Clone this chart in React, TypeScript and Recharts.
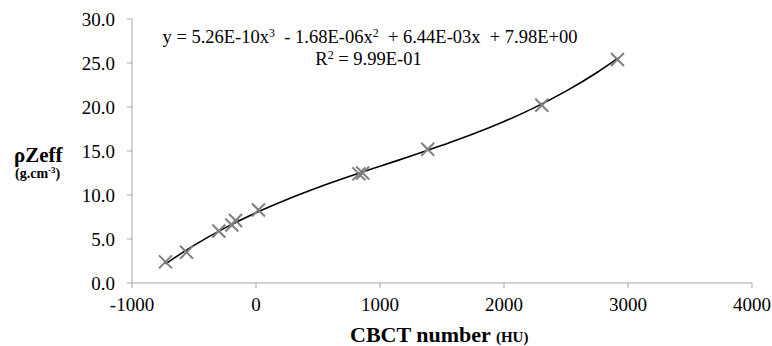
import React from 'react';
import { ComposedChart, XAxis, YAxis, Scatter, Line } from 'recharts';

const measuredX = [-730, -560, -300, -195, -165, 20, 830, 860, 1385, 2305, 2915];
const measuredY = [2.4, 3.5, 5.9, 6.6, 7.1, 8.3, 12.4, 12.5, 15.2, 20.2, 25.4];

const trendX = [-730, -500, -250, 0, 250, 500, 750, 1000, 1250, 1500, 1750, 2000, 2250, 2500, 2750, 2920];
const trendY = [2.18, 4.27, 6.26, 7.98, 9.49, 10.85, 12.09, 13.27, 14.43, 15.64, 16.92, 18.35, 19.96, 21.80, 23.92, 25.56];

const xTicks = [-1000, 0, 1000, 2000, 3000, 4000];
const yTicks = [0, 5, 10, 15, 20, 25, 30];

const points = measuredX.map((x, i) => ({ x, y: measuredY[i] }));
const trend = trendX.map((x, i) => ({ x, t: trendY[i] }));

const FONT = "'Liberation Serif'";

const Cross = (props: any) => {
  const { cx, cy } = props;
  if (cx == null || cy == null) return null;
  const r = 6.5;
  return (
    <g stroke="#7f7f7f" strokeWidth={2}>
      <line x1={cx - r} y1={cy - r} x2={cx + r} y2={cy + r} />
      <line x1={cx - r} y1={cy + r} x2={cx + r} y2={cy - r} />
    </g>
  );
};

const Sup = ({ children, size, top }: { children: React.ReactNode; size: number; top: number }) => (
  <span style={{ fontSize: size, position: 'relative', top, lineHeight: 0 }}>{children}</span>
);

export default function App() {
  return (
    <div style={{ position: 'absolute', left: 0, top: 0, width: 772, height: 346, background: '#fff', fontFamily: FONT, color: '#000' }}>
      <ComposedChart width={772} height={346} margin={{ top: 19, right: 20, bottom: 33, left: 72 }}>
        <XAxis
          type="number"
          dataKey="x"
          domain={[-1000, 4000]}
          ticks={xTicks}
          interval={0}
          allowDataOverflow
          stroke="#a6a6a6"
          tickSize={5}
          tickMargin={10}
          height={30}
          tick={{ fill: '#000', fontSize: 19, fontFamily: FONT }}
        />
        <YAxis
          type="number"
          domain={[0, 30]}
          ticks={yTicks}
          interval={0}
          width={60}
          stroke="#a6a6a6"
          tickSize={5}
          tickMargin={12}
          tickFormatter={(v: number) => v.toFixed(1)}
          tick={{ fill: '#000', fontSize: 19, fontFamily: FONT }}
        />
        <Line
          data={trend}
          dataKey="t"
          type="monotone"
          stroke="#000"
          strokeWidth={1.6}
          dot={false}
          activeDot={false}
          isAnimationActive={false}
        />
        <Scatter data={points} dataKey="y" shape={<Cross />} isAnimationActive={false} />
      </ComposedChart>

      <div style={{ position: 'absolute', left: 0, top: 27, width: 740, textAlign: 'center', fontSize: 18.5, lineHeight: '20px', whiteSpace: 'nowrap' }}>
        y = 5.26E-10x<Sup size={12} top={-6}>3</Sup>&nbsp; - 1.68E-06x<Sup size={12} top={-6}>2</Sup>&nbsp; + 6.44E-03x&nbsp; + 7.98E+00
      </div>
      <div style={{ position: 'absolute', left: 0, top: 49, width: 737, textAlign: 'center', fontSize: 18.5, lineHeight: '20px', whiteSpace: 'nowrap' }}>
        R<Sup size={12} top={-6}>2</Sup> = 9.99E-01
      </div>

      <div style={{ position: 'absolute', left: 14, top: 141.5, fontSize: 21, fontWeight: 'bold', lineHeight: '26px', whiteSpace: 'nowrap' }}>
        ρZeff
      </div>
      <div style={{ position: 'absolute', left: 15, top: 166, fontSize: 14, fontWeight: 'bold', lineHeight: '16px', whiteSpace: 'nowrap' }}>
        (g.cm<Sup size={9} top={-5}>-3</Sup>)
      </div>

      <div style={{ position: 'absolute', left: 350, top: 322, fontSize: 22, fontWeight: 'bold', lineHeight: '26px', whiteSpace: 'nowrap' }}>
        CBCT number <span style={{ fontSize: 15 }}>(HU)</span>
      </div>
    </div>
  );
}
